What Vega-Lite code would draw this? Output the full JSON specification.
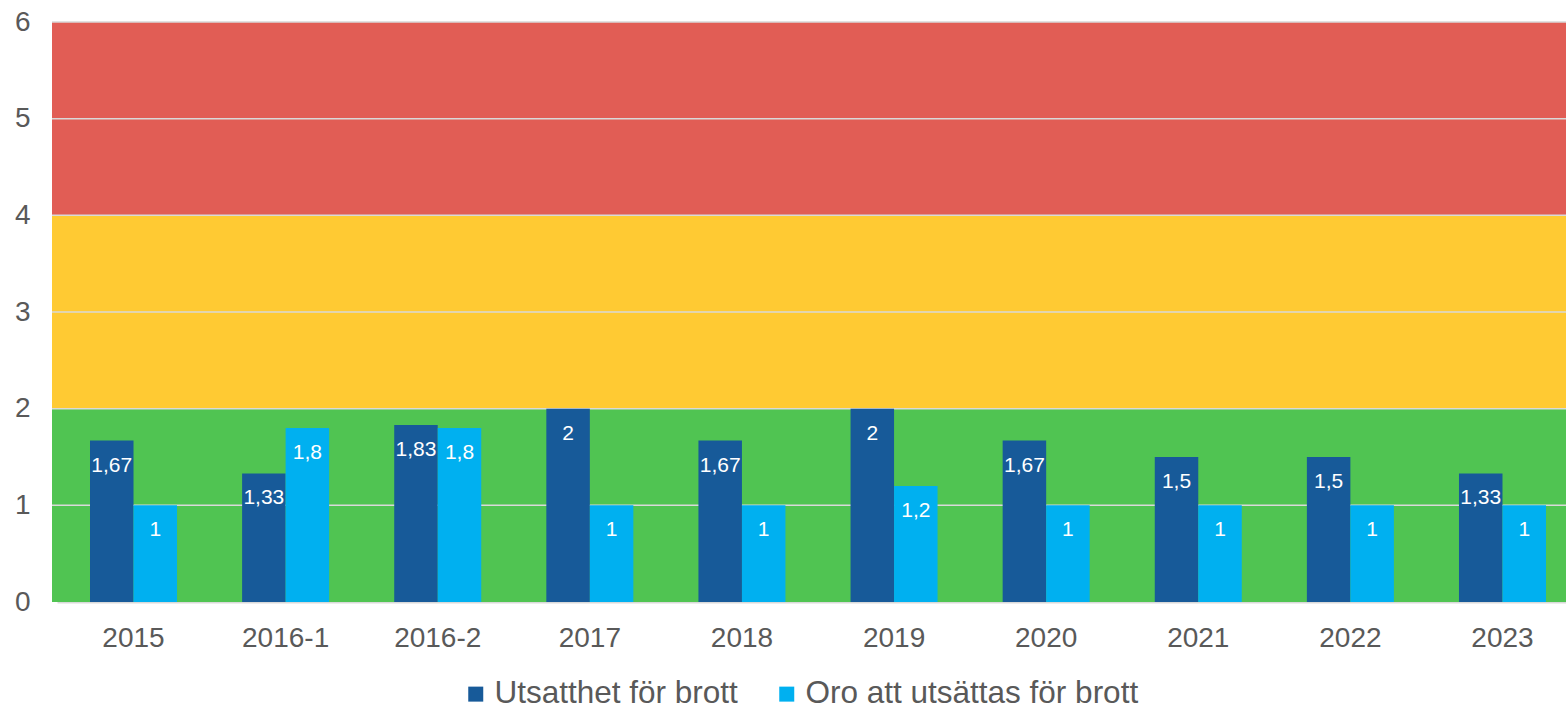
{
  "$schema": "https://vega.github.io/schema/vega-lite/v6.json",
  "width": 1514,
  "height": 580,
  "autosize": "none",
  "padding": {"left": 52, "top": 22, "right": 0, "bottom": 107},
  "background": "white",
  "config": {
    "view": {"stroke": null},
    "font": "Liberation Sans, Arial",
    "locale": {"number": {"decimal": ",", "thousands": " ", "grouping": [3], "currency": ["", " kr"]}}
  },
  "datasets": {
    "bands": [
      {"zone": "grön", "lo": 0, "hi": 2},
      {"zone": "gul", "lo": 2, "hi": 4},
      {"zone": "röd", "lo": 4, "hi": 6}
    ],
    "grid": [{"v": 1}, {"v": 2}, {"v": 3}, {"v": 4}, {"v": 5}, {"v": 6}],
    "bars": [
      {"period": "2015", "serie": "Utsatthet för brott", "värde": 1.67},
      {"period": "2015", "serie": "Oro att utsättas för brott", "värde": 1},
      {"period": "2016-1", "serie": "Utsatthet för brott", "värde": 1.33},
      {"period": "2016-1", "serie": "Oro att utsättas för brott", "värde": 1.8},
      {"period": "2016-2", "serie": "Utsatthet för brott", "värde": 1.83},
      {"period": "2016-2", "serie": "Oro att utsättas för brott", "värde": 1.8},
      {"period": "2017", "serie": "Utsatthet för brott", "värde": 2},
      {"period": "2017", "serie": "Oro att utsättas för brott", "värde": 1},
      {"period": "2018", "serie": "Utsatthet för brott", "värde": 1.67},
      {"period": "2018", "serie": "Oro att utsättas för brott", "värde": 1},
      {"period": "2019", "serie": "Utsatthet för brott", "värde": 2},
      {"period": "2019", "serie": "Oro att utsättas för brott", "värde": 1.2},
      {"period": "2020", "serie": "Utsatthet för brott", "värde": 1.67},
      {"period": "2020", "serie": "Oro att utsättas för brott", "värde": 1},
      {"period": "2021", "serie": "Utsatthet för brott", "värde": 1.5},
      {"period": "2021", "serie": "Oro att utsättas för brott", "värde": 1},
      {"period": "2022", "serie": "Utsatthet för brott", "värde": 1.5},
      {"period": "2022", "serie": "Oro att utsättas för brott", "värde": 1},
      {"period": "2023", "serie": "Utsatthet för brott", "värde": 1.33},
      {"period": "2023", "serie": "Oro att utsättas för brott", "värde": 1}
    ]
  },
  "layer": [
    {
      "data": {"name": "bands"},
      "mark": {"type": "rect"},
      "encoding": {
        "y": {"field": "lo", "type": "quantitative", "scale": {"domain": [0, 6], "nice": false},
          "axis": {"title": null, "values": [0, 1, 2, 3, 4, 5, 6], "format": "~g", "labelFontSize": 28, "labelColor": "#595959",
            "ticks": false, "domain": false, "grid": false, "labelPadding": 22}},
        "y2": {"field": "hi"},
        "fill": {"field": "zone", "type": "nominal", "legend": null,
          "scale": {"domain": ["grön", "gul", "röd"], "range": ["#50C452", "#FFCA33", "#E15D55"]}}
      }
    },
    {
      "data": {"name": "grid"},
      "mark": {"type": "rule", "color": "#D9D9D9", "strokeWidth": 1.5},
      "encoding": {
        "y": {"field": "v", "type": "quantitative"}
      }
    },
    {
      "data": {"name": "bars"},
      "mark": {"type": "bar"},
      "encoding": {
        "x": {"field": "period", "type": "nominal", "sort": null,
          "scale": {"range": [5, 1527], "paddingInner": 0.428, "paddingOuter": 0.217},
          "axis": {"title": null, "labelAngle": 0, "labelFontSize": 28, "labelColor": "#595959",
            "labelPadding": 22, "ticks": false, "domainColor": "#D9D9D9", "domainWidth": 2}},
        "xOffset": {"field": "serie", "type": "nominal",
          "scale": {"domain": ["Utsatthet för brott", "Oro att utsättas för brott"], "paddingInner": 0, "paddingOuter": 0}},
        "y": {"field": "värde", "type": "quantitative"},
        "color": {"field": "serie", "type": "nominal",
          "scale": {"domain": ["Utsatthet för brott", "Oro att utsättas för brott"], "range": ["#175A99", "#00B0F0"]},
          "legend": {"title": null, "orient": "none", "direction": "horizontal", "legendX": 408, "legendY": 656,
            "symbolType": "square", "symbolSize": 225, "symbolStrokeWidth": 0, "labelFontSize": 31.5,
            "labelColor": "#595959", "labelOffset": 3, "columnPadding": 33, "labelLimit": 500}}
      }
    },
    {
      "data": {"name": "bars"},
      "mark": {"type": "text", "color": "white", "fontSize": 21, "baseline": "middle", "dy": 25},
      "encoding": {
        "x": {"field": "period", "type": "nominal", "sort": null},
        "xOffset": {"field": "serie", "type": "nominal"},
        "y": {"field": "värde", "type": "quantitative"},
        "text": {"field": "värde", "type": "quantitative", "format": "~g"}
      }
    }
  ]
}
